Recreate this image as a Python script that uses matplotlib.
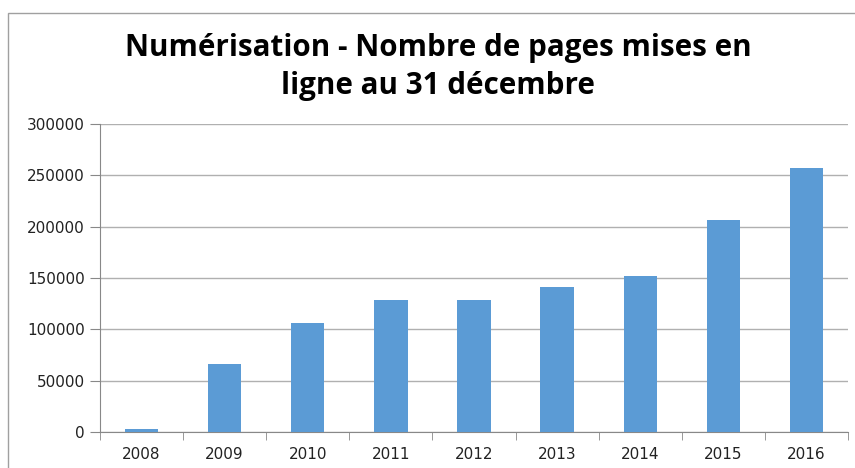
import numpy as np
import matplotlib.pyplot as plt
from matplotlib.patches import Rectangle

annees = ['2008', '2009', '2010', '2011', '2012', '2013', '2014', '2015', '2016']
pages = [3000, 66000, 106000, 128500, 128500, 141500, 152000, 206500, 257000]
yticks = [0, 50000, 100000, 150000, 200000, 250000, 300000]

titre = "Numérisation - Nombre de pages mises en\nligne au 31 décembre"

W, H = 855, 468
fig = plt.figure(figsize=(W / 100, H / 100), dpi=100)
ax = fig.add_axes([100 / W, 1 - 432 / H, 748 / W, 308 / H])

x = np.arange(len(annees))
ax.bar(x, pages, width=0.4, color='#5b9bd5', zorder=3)

ax.set_xlim(-0.5, len(annees) - 0.5)
ax.set_ylim(0, 300000)
ax.set_yticks(yticks)
ax.set_yticklabels([str(v) for v in yticks], fontsize=11, color='#222222')
ax.set_xticks(x)
ax.set_xticklabels(annees, fontsize=11, color='#222222')
ax.tick_params(axis='x', length=0, pad=11)
ax.tick_params(axis='y', length=7, color='#888888', pad=4)

# ticks between categories on the x axis
ax.set_xticks(np.arange(-0.5, len(annees)), minor=True)
ax.tick_params(axis='x', which='minor', length=6, color='#888888')

ax.grid(axis='y', color='#b0b0b0', linewidth=1, zorder=0)
for s in ['top', 'right']:
    ax.spines[s].set_visible(False)
ax.spines['left'].set_color('#888888')
ax.spines['bottom'].set_color('#888888')

fig.text(438 / W, 1 - 67 / H, titre, ha='center', va='center',
         fontsize=21.3, fontweight='bold', family='Open Sans', linespacing=1.38)

# cadre du graphique
fig.patches.append(Rectangle((8 / W, -0.1), (W - 6) / W, 1 - 13 / H + 0.1,
                             transform=fig.transFigure, fill=False,
                             edgecolor='#a0a0a0', linewidth=1))

fig.savefig('out.png', dpi=100)
